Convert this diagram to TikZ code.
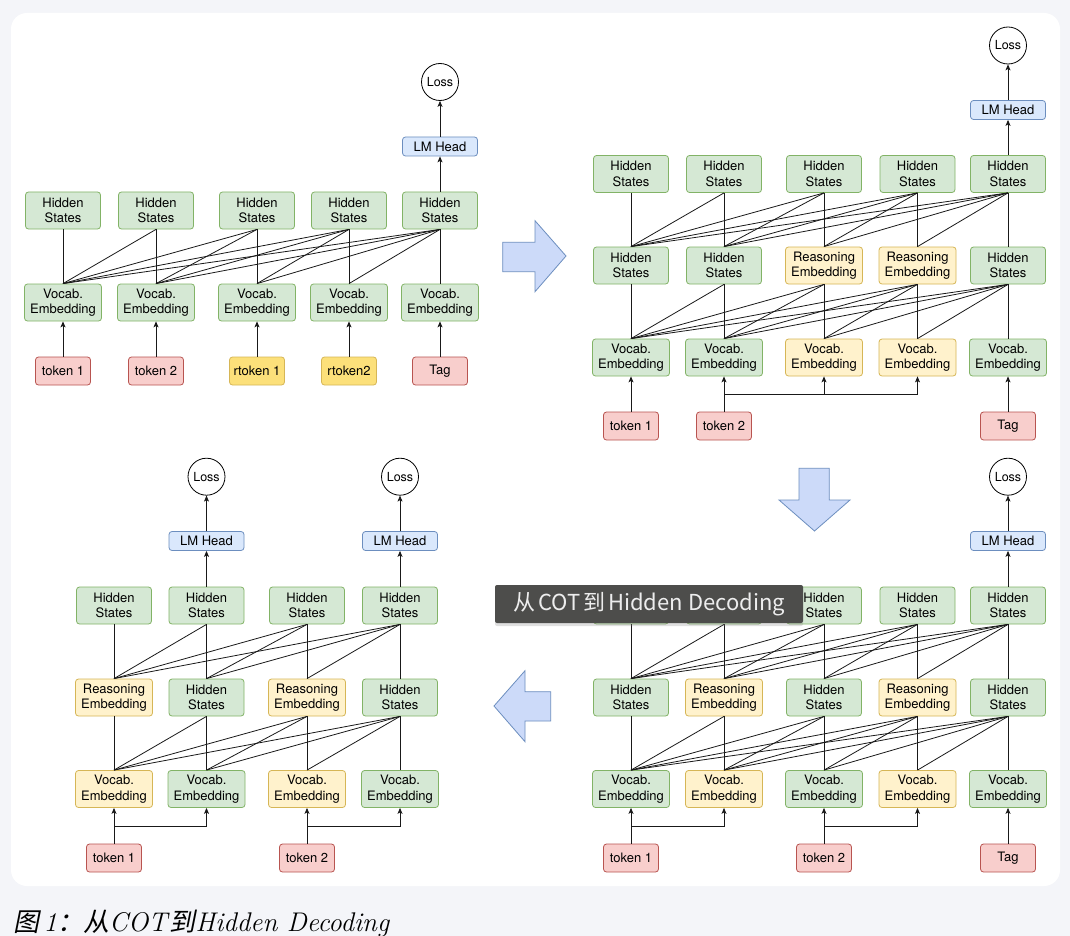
\documentclass[tikz,border=0pt]{standalone}
\usepackage{fontspec}
\usetikzlibrary{arrows.meta,shadows}
\newfontfamily\diag{TeX Gyre Heros}
\newfontfamily\cjk{Noto Sans CJK SC}
\newfontfamily\cjkit[FakeSlant=0.2]{Noto Sans CJK SC}
\definecolor{pagebg}{HTML}{F4F5F9}
\definecolor{gfill}{HTML}{D5E8D4}\definecolor{gline}{HTML}{82B366}
\definecolor{yfill}{HTML}{FFF2CC}\definecolor{yline}{HTML}{D6B656}
\definecolor{rfill}{HTML}{F8CECC}\definecolor{rline}{HTML}{B85450}
\definecolor{bfill}{HTML}{DAE8FC}\definecolor{bline}{HTML}{6C8EBF}
\definecolor{tyfill}{HTML}{FCE07A}
\definecolor{afill}{HTML}{CCDAF9}
\definecolor{labelbg}{HTML}{4D4D4B}
\tikzset{
  box/.style={draw, rounded corners=3pt, line width=0.8pt, align=center, inner sep=0pt,
    font=\diag\fontsize{13}{15.5}\selectfont},
  hs/.style={box, fill=gfill, draw=gline, minimum width=75pt, minimum height=37pt},
  ve/.style={box, fill=gfill, draw=gline, minimum width=77pt, minimum height=37pt},
  vey/.style={box, fill=yfill, draw=yline, minimum width=77pt, minimum height=37pt},
  tokr/.style={box, fill=rfill, draw=rline, minimum width=55pt, minimum height=28pt},
  toky/.style={box, fill=tyfill, draw=yline, minimum width=55pt, minimum height=28pt},
  lmh/.style={box, fill=bfill, draw=bline, minimum width=75pt, minimum height=19pt},
  lossnode/.style={circle, draw=black, fill=white, line width=0.8pt, minimum size=37pt, inner sep=0pt,
    font=\diag\fontsize{12.5}{14}\selectfont},
  conn/.style={draw=black!90, line width=0.8pt},
  arr/.style={draw=black!90, line width=0.8pt, -{Stealth[length=6pt,width=5pt,inset=1.5pt]}},
  blockarrow/.style={fill=afill, draw=bline, line width=0.8pt, line join=miter},
}
\newcommand\causal[3]{%
  \foreach \i in {1,...,#3}{\foreach \j in {1,...,\i}{\draw[conn] (#1\j.north) -- (#2\i.south);}}}
\begin{document}
\begin{tikzpicture}[x=1pt,y=-1pt]
\useasboundingbox (0,0) rectangle (1070,936);
\fill[pagebg] (0,0) rectangle (1070,936);
\fill[white, rounded corners=16pt] (11,13) rectangle (1060,886);

% ===== top-left panel =====
\foreach \x [count=\k] in {63,156,257,349,440}{
  \node[hs] (tlh\k) at (\x,210.5) {Hidden\\States};
  \node[ve] (tlv\k) at (\x,302.5) {Vocab.\\Embedding};
}
\node[tokr] (tlt1) at (63,371) {token 1};
\node[tokr] (tlt2) at (156,371) {token 2};
\node[toky] (tlt3) at (257,371) {rtoken 1};
\node[toky] (tlt4) at (349,371) {rtoken2};
\node[tokr] (tlt5) at (440,371) {Tag};
\node[lmh] (tllm) at (440,146.5) {LM Head};
\node[lossnode] (tlloss) at (440,82) {Loss};
\causal{tlv}{tlh}{5}
\foreach \k in {1,...,5}{\draw[arr] (tlt\k.north) -- (tlv\k.south);}
\draw[arr] (tlh5.north) -- (tllm.south);
\draw[arr] (tllm.north) -- (tlloss.south);

% ===== top-right panel =====
\foreach \x [count=\k] in {631,724,824,917.5,1008}{
  \node[hs] (trh\k) at (\x,174) {Hidden\\States};
}
\node[hs] (trm1) at (631,265.5) {Hidden\\States};
\node[hs] (trm2) at (724,265.5) {Hidden\\States};
\node[vey] (trm3) at (824,265.5) {Reasoning\\Embedding};
\node[vey] (trm4) at (917.5,265.5) {Reasoning\\Embedding};
\node[hs] (trm5) at (1008,265.5) {Hidden\\States};
\node[ve] (trv1) at (631,357.5) {Vocab.\\Embedding};
\node[ve] (trv2) at (724,357.5) {Vocab.\\Embedding};
\node[vey] (trv3) at (824,357.5) {Vocab.\\Embedding};
\node[vey] (trv4) at (917.5,357.5) {Vocab.\\Embedding};
\node[ve] (trv5) at (1008,357.5) {Vocab.\\Embedding};
\node[tokr] (trt1) at (631,426) {token 1};
\node[tokr] (trt2) at (724,426) {token 2};
\node[tokr] (trt5) at (1008,426) {Tag};
\node[lmh] (trlm) at (1008,110) {LM Head};
\node[lossnode] (trloss) at (1008,45.5) {Loss};
\causal{trv}{trm}{5}
\causal{trm}{trh}{5}
\draw[arr] (trt1.north) -- (trv1.south);
\draw[arr] (trt2.north) -- (trv2.south);
\draw[arr] (trt5.north) -- (trv5.south);
\coordinate (trb) at (724,394);
\draw[arr] (trb) -| (trv4.south);
\draw[arr] (trv3.south |- trb) -- (trv3.south);
\draw[arr] (trh5.north) -- (trlm.south);
\draw[arr] (trlm.north) -- (trloss.south);

% ===== bottom-right panel =====
\foreach \x [count=\k] in {631,724,824,917.5,1008}{
  \node[hs] (brh\k) at (\x,605.5) {Hidden\\States};
}
\node[hs] (brm1) at (631,697.5) {Hidden\\States};
\node[vey] (brm2) at (724,697.5) {Reasoning\\Embedding};
\node[hs] (brm3) at (824,697.5) {Hidden\\States};
\node[vey] (brm4) at (917.5,697.5) {Reasoning\\Embedding};
\node[hs] (brm5) at (1008,697.5) {Hidden\\States};
\node[ve] (brv1) at (631,789) {Vocab.\\Embedding};
\node[vey] (brv2) at (724,789) {Vocab.\\Embedding};
\node[ve] (brv3) at (824,789) {Vocab.\\Embedding};
\node[vey] (brv4) at (917.5,789) {Vocab.\\Embedding};
\node[ve] (brv5) at (1008,789) {Vocab.\\Embedding};
\node[tokr] (brt1) at (631,858) {token 1};
\node[tokr] (brt2) at (824,858) {token 2};
\node[tokr] (brt5) at (1008,858) {Tag};
\node[lmh] (brlm) at (1008,541) {LM Head};
\node[lossnode] (brloss) at (1008,476.7) {Loss};
\causal{brv}{brm}{5}
\causal{brm}{brh}{5}
\draw[arr] (brt1.north) -- (brv1.south);
\draw[arr] (brt2.north) -- (brv3.south);
\draw[arr] (brt5.north) -- (brv5.south);
\coordinate (brb1) at (631,826);
\coordinate (brb2) at (824,826);
\draw[arr] (brb1) -| (brv2.south);
\draw[arr] (brb2) -| (brv4.south);
\draw[arr] (brh5.north) -- (brlm.south);
\draw[arr] (brlm.north) -- (brloss.south);

% ===== bottom-left panel =====
\foreach \x [count=\k] in {114,206.5,307,400}{
  \node[hs] (blh\k) at (\x,605.5) {Hidden\\States};
}
\node[vey] (blm1) at (114,697.5) {Reasoning\\Embedding};
\node[hs] (blm2) at (206.5,697.5) {Hidden\\States};
\node[vey] (blm3) at (307,697.5) {Reasoning\\Embedding};
\node[hs] (blm4) at (400,697.5) {Hidden\\States};
\node[vey] (blv1) at (114,789) {Vocab.\\Embedding};
\node[ve] (blv2) at (206.5,789) {Vocab.\\Embedding};
\node[vey] (blv3) at (307,789) {Vocab.\\Embedding};
\node[ve] (blv4) at (400,789) {Vocab.\\Embedding};
\node[tokr] (blt1) at (114,858) {token 1};
\node[tokr] (blt2) at (307,858) {token 2};
\node[lmh] (bllm1) at (206.5,541) {LM Head};
\node[lmh] (bllm2) at (400,541) {LM Head};
\node[lossnode] (blloss1) at (206.5,476.7) {Loss};
\node[lossnode] (blloss2) at (400,476.7) {Loss};
\causal{blv}{blm}{4}
\causal{blm}{blh}{4}
\draw[arr] (blt1.north) -- (blv1.south);
\draw[arr] (blt2.north) -- (blv3.south);
\coordinate (blb1) at (114,826);
\coordinate (blb2) at (307,826);
\draw[arr] (blb1) -| (blv2.south);
\draw[arr] (blb2) -| (blv4.south);
\draw[arr] (blh2.north) -- (bllm1.south);
\draw[arr] (bllm1.north) -- (blloss1.south);
\draw[arr] (blh4.north) -- (bllm2.south);
\draw[arr] (bllm2.north) -- (blloss2.south);

% ===== block arrows =====
\draw[blockarrow] (502.7,242.3) -- (535,242.3) -- (535,220.7) -- (566,256) -- (535,291.7) -- (535,271.7) -- (502.7,271.7) -- cycle;
\draw[blockarrow] (799,468.3) -- (829.3,468.3) -- (829.3,500) -- (850,500) -- (814.5,531) -- (779,500) -- (799,500) -- cycle;
\draw[blockarrow] (494,706) -- (525,670.7) -- (525,691.7) -- (550.7,691.7) -- (550.7,721) -- (525,721) -- (525,741.7) -- cycle;

% ===== overlay label =====
\node[fill=labelbg, rounded corners=2pt, minimum width=308pt, minimum height=38pt, inner sep=0pt,
  drop shadow={opacity=0.25, shadow xshift=0pt, shadow yshift=-3pt},
  text=white!93!black, font=\cjk\fontsize{22}{24}\selectfont] (label) at (649,604)
  {从\hspace{3pt}COT\hspace{3pt}到\hspace{3pt}Hidden Decoding};

% ===== caption =====
\node[anchor=base west, inner sep=0pt, font=\fontsize{27}{29}\selectfont] (caption) at (13,931)
  {{\cjkit\fontsize{26}{28}\selectfont 图}\,\textit{1}{\cjkit\fontsize{26}{28}\selectfont ：从}\textit{COT}{\cjkit\fontsize{26}{28}\selectfont 到}\textit{Hidden Decoding}};
\end{tikzpicture}
\end{document}
